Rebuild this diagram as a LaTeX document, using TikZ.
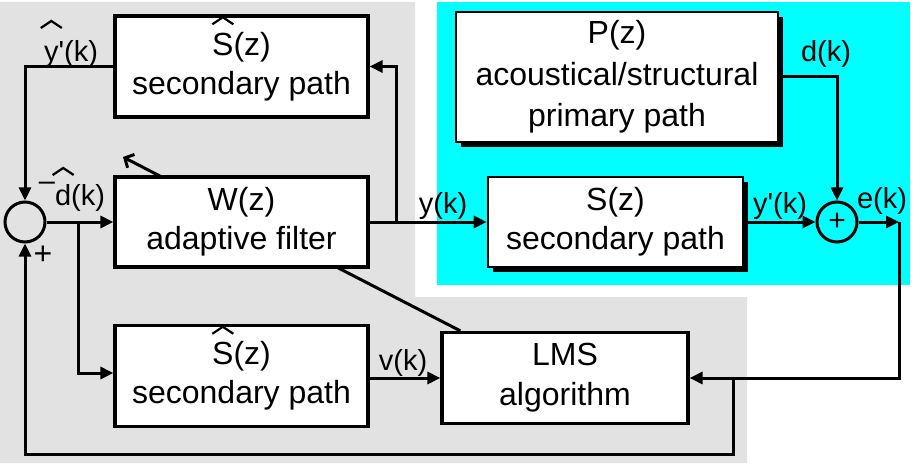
\documentclass[tikz,border=0pt]{standalone}
\usepackage{fontspec}
\setmainfont{Liberation Sans}[Ligatures=TeXOff]
\usepackage{graphicx}
\usetikzlibrary{arrows.meta,shadows}
\definecolor{bggray}{RGB}{226,226,226}
\definecolor{cyanbg}{RGB}{0,255,255}
% hat drawn as a small chevron; #1 = height of its lower ends above the baseline
\newcommand\hatch[2][31pt]{\ooalign{#2\cr\hidewidth\tikz[baseline=0pt]\draw[line width=2.2pt,line join=miter] (-10.5pt,#1) -- (0pt,#1+7pt) -- (10.5pt,#1);\hidewidth\cr}}
\pgfdeclarelayer{bg}
\pgfdeclarelayer{mid}
\pgfsetlayers{bg,mid,main}
\begin{document}
\begin{tikzpicture}[x=1pt,y=-1pt,
  blk/.style={draw,line width=3.2pt,fill=white,minimum width=253pt,inner sep=0pt,
    align=center,font=\fontsize{32}{39}\selectfont},
  shblk/.style={blk,line width=2.6pt,drop shadow={shadow xshift=5pt,shadow yshift=-5pt,opacity=1,fill=black}},
  sumc/.style={draw,circle,line width=3pt,minimum size=40pt,inner sep=0pt,font=\fontsize{30}{32}\selectfont},
  lab/.style={inner sep=0pt,anchor=base,font=\fontsize{29}{31}\selectfont},
  conn/.style={line width=3pt},
  arr/.style={conn,-{Triangle[length=13pt,width=12pt]}},
  barb/.style={conn,-{Straight Barb[length=7pt,width=15pt]}}
]
\useasboundingbox (0,0) rectangle (915,465);
\begin{pgfonlayer}{bg}
  \fill[bggray] (0,2) -- (415,2) -- (415,297) -- (747,297) -- (747,463) -- (0,463) -- cycle;
  \fill[cyanbg] (437,2) rectangle (910,285);
\end{pgfonlayer}

% blocks
\node[blk,minimum height=101pt] (Sh1) at (241.5,66.5) {\hatch{S}(z)\\secondary path};
\node[blk,minimum height=90pt] (W) at (241.5,222) {W(z)\\adaptive filter};
\node[blk,minimum height=101pt] (Sh2) at (241.5,376) {\hatch{S}(z)\\secondary path};
\node[blk,minimum width=246pt,minimum height=91pt,font=\fontsize{32}{40}\selectfont] (LMS) at (565,378) {LMS\\algorithm};
\node[shblk,minimum width=322pt,minimum height=130pt,font=\fontsize{32}{41.5}\selectfont] (P) at (617,77) {P(z)\\acoustical/structural\\primary path};
\node[shblk,minimum width=255pt,minimum height=90pt] (S) at (615.5,222) {S(z)\\secondary path};
\node[sumc] (sum1) at (25,222) {};
\node[sumc] (sum2) at (837,222) {+};

% junction points
\coordinate (b1) at (78,222);
\coordinate (b2) at (396,222);
\coordinate (ec) at (899,222);
\coordinate (b3) at (733,378);
\coordinate (c4) at (733,454);
\coordinate (adapt) at (123,157);

% adaptive arrow (behind W)
\begin{pgfonlayer}{mid}
  \draw[barb] ([xshift=20pt]LMS.north west) -- (adapt);
\end{pgfonlayer}

% connectors
\draw[arr] (sum1.east) -- (W.west);
\draw[arr] (b1) |- ([yshift=3pt]Sh2.west);
\draw[arr] (Sh1.west) -| (sum1.north);
\draw[arr] (W.east) -- (S.west);
\draw[arr] (b2) |- (Sh1.east);
\draw[arr] (P.east) -| (sum2.north);
\draw[arr] (S.east) -- (sum2.west);
\draw[arr] (sum2.east) -- (ec);
\draw[arr] (ec) |- (LMS.east);
\draw[arr] (b3) -- (c4) -| (sum1.south);
\draw[arr] (Sh2.east |- LMS.west) -- (LMS.west);

% labels
\node[lab] (lyh) at (71,62) {\hatch[34pt]{y}'(k)};
\node[lab] (ldh) at (72,205) {\raisebox{0.5em}{–}\hatch[30pt]{d}(k)};
\node[lab] (ly) at (443,213) {y(k)};
\node[lab] (lyp) at (780,213) {y'(k)};
\node[lab] (le) at (882,208) {e(k)};
\node[lab] (ld) at (826,62) {d(k)};
\node[lab] (lv) at (403,370) {v(k)};
\node[inner sep=0pt,font=\fontsize{32}{34}\selectfont] (lplus) at (43,255) {+};
\end{tikzpicture}
\end{document}
